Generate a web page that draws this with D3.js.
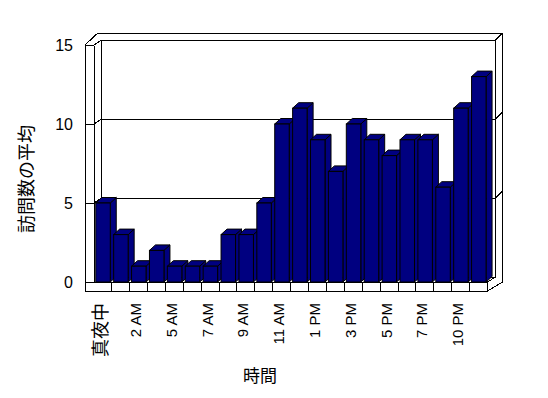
<!DOCTYPE html>
<html lang="ja">
<head>
  <meta charset="UTF-8">
  <title>訪問数の平均</title>
  <script src="https://d3js.org/d3.v7.min.js"></script>
  <style>
    * { margin: 0; padding: 0; }
    body { background: #fff; width: 548px; height: 398px; overflow: hidden; }
    svg { display: block; font-family: "Liberation Sans", "Noto Sans CJK JP", sans-serif; }
    .ln { stroke: #000; stroke-width: 1; fill: none; shape-rendering: crispEdges; }
    .face { fill: #000080; stroke: #000; stroke-width: 1; stroke-linejoin: miter; }
    .lbl { font-size: 15px; fill: #000; }
  </style>
</head>
<body>
<svg id="chart" width="548" height="398"></svg>
<script>
  // data
  const hours = ["真夜中", "1 AM", "2 AM", "4 AM", "5 AM", "6 AM", "7 AM", "8 AM", "9 AM", "10 AM", "11 AM",
                 "正午", "1 PM", "2 PM", "3 PM", "4 PM", "5 PM", "6 PM", "7 PM", "9 PM", "10 PM", "11 PM"];
  const visits = [5, 3, 1, 2, 1, 1, 1, 3, 3, 5, 10, 11, 9, 7, 10, 9, 8, 9, 9, 6, 11, 13];
  const yTicks = [0, 5, 10, 15];

  const svg = d3.select("#chart");

  // 3d offsets
  const depth = { dx: 8, dy: -5 };     // front plane -> back wall
  const thick = { dx: 7, dy: -7 };     // back wall slab
  const barD = { dx: 6, dy: -5.5 };    // bar depth
  const wallLeft = 85, floorH = 9;
  const cjk = /[\u3000-\u9fff]/;

  const x = d3.scaleBand().domain(hours).range([93.8, 487.5]).padding(0);
  const y = d3.scaleLinear().domain([0, 15]).range([282, 45]);

  const x0 = x.range()[0], x1 = x.range()[1];
  const yTop = y(15), yBot = y(0);
  const bx0 = x0 + depth.dx, bx1 = x1 + depth.dx;

  const g = svg.append("g");

  // walls
  const line = (pts) => g.append("path").attr("class", "ln").attr("d", d3.line()(pts));

  line([[wallLeft, yBot + floorH], [wallLeft, yTop], [bx0 - 4, yTop + depth.dy + thick.dy], [bx1 + thick.dx, yTop + depth.dy + thick.dy],
        [bx1 + thick.dx, yBot]]);
  line([[x0, yTop], [bx0, yTop + depth.dy], [bx1, yTop + depth.dy], [bx1 + thick.dx, yTop + depth.dy + thick.dy]]);
  line([[bx0, yTop + depth.dy], [bx0, yBot + depth.dy]]);
  line([[bx1, yTop + depth.dy], [bx1, yBot + depth.dy]]);
  line([[bx0, yBot + depth.dy], [bx1, yBot + depth.dy]]);

  // gridlines on side wall / back wall
  yTicks.filter(v => v > 0 && v < 15).forEach(v => {
    line([[x0, y(v)], [bx0, y(v) + depth.dy], [bx1, y(v) + depth.dy], [bx1 + thick.dx, y(v) + depth.dy + thick.dy]]);
  });

  // floor
  line([[wallLeft, yBot], [x1, yBot], [bx1, yBot + depth.dy]]);
  line([[wallLeft, yBot + floorH], [x1, yBot + floorH], [bx1 + thick.dx, yBot]]);
  line([[x1, yBot], [x1, yBot + floorH]]);
  hours.slice(1).forEach(h => line([[x(h), yBot], [x(h), yBot + floorH]]));

  // y axis
  const yAxis = d3.axisLeft(y).tickValues(yTicks).tickSize(x0 - wallLeft).tickSizeOuter(0).tickPadding(12);
  const ya = svg.append("g").attr("transform", `translate(${x0},0)`).call(yAxis);
  ya.select(".domain").attr("stroke", "#000").attr("shape-rendering", "crispEdges");
  ya.selectAll(".tick line").attr("stroke", "#000").attr("shape-rendering", "crispEdges");
  ya.selectAll(".tick text").attr("class", "lbl").style("font-size", "16px").attr("fill", "#000")
    .style("font-family", "'Liberation Sans', sans-serif");

  // bars
  const bw = x.bandwidth() * 0.81, bOff = x.bandwidth() * 0.11;
  const bars = svg.append("g").selectAll("g").data(hours.map((h, i) => ({ h, v: visits[i] }))).enter().append("g");

  bars.append("path").attr("class", "face").attr("d", d => {
    const l = x(d.h) + bOff, r = l + bw, t = y(d.v);
    return d3.line()([[r, t], [r + barD.dx, t + barD.dy], [r + barD.dx, yBot + barD.dy], [r, yBot]]) + "Z";
  });
  bars.append("path").attr("class", "face").attr("d", d => {
    const l = x(d.h) + bOff, r = l + bw, t = y(d.v);
    return d3.line()([[l, t], [l + barD.dx, t + barD.dy], [r + barD.dx, t + barD.dy], [r, t]]) + "Z";
  });
  bars.append("rect").attr("class", "face")
    .attr("x", d => x(d.h) + bOff).attr("y", d => y(d.v))
    .attr("width", bw).attr("height", d => yBot - y(d.v));

  // x labels, every other category
  svg.append("g").selectAll("text")
    .data(hours.filter((h, i) => i % 2 === 0)).enter().append("text")
    .attr("class", "lbl")
    .style("font-size", d => cjk.test(d) ? "18px" : "15px")
    .attr("transform", d => `translate(${x(d) + x.bandwidth() / 2 - (cjk.test(d) ? 1.5 : 3)},303) rotate(-90)`)
    .attr("text-anchor", "end").attr("dominant-baseline", "central")
    .text(d => d);

  // axis titles
  svg.append("text").attr("class", "lbl").style("font-size", "18px")
    .attr("transform", "translate(27,179) rotate(-90)")
    .attr("text-anchor", "middle").attr("dominant-baseline", "central")
    .text("訪問数の平均");
  svg.append("text").attr("class", "lbl").style("font-size", "17px")
    .attr("x", 260).attr("y", 382).attr("text-anchor", "middle")
    .text("時間");
</script>
</body>
</html>
